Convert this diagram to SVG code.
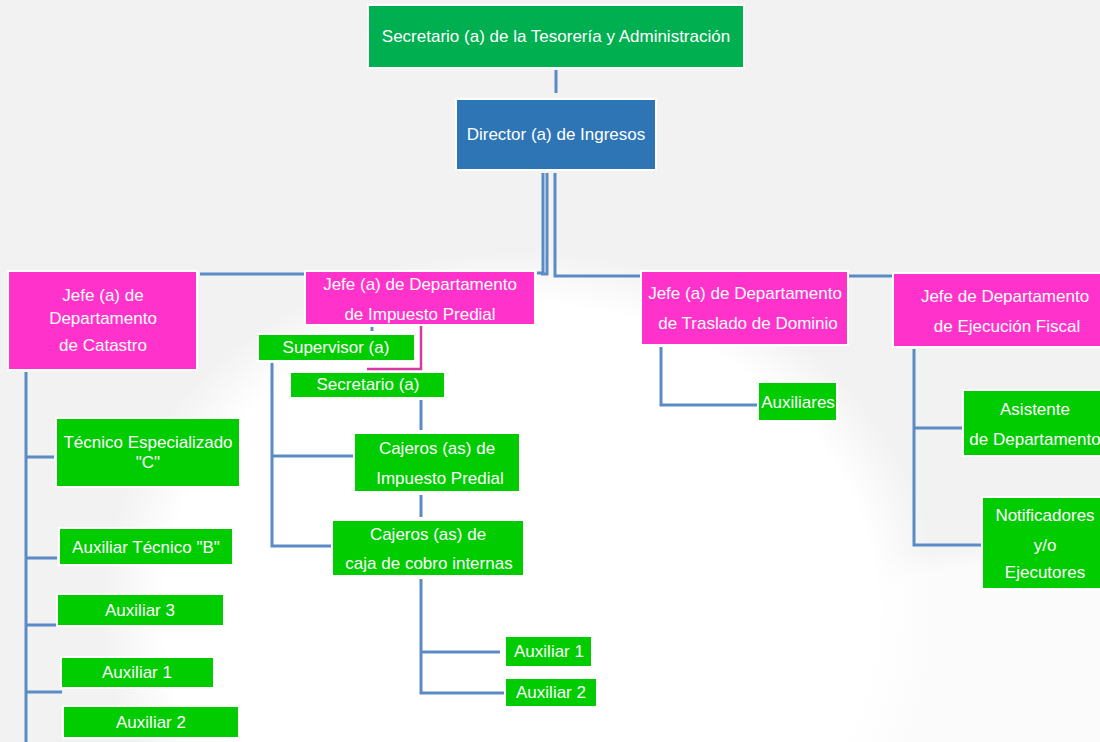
<svg xmlns="http://www.w3.org/2000/svg" width="1100" height="742" viewBox="0 0 1100 742">
<defs>
<radialGradient id="bgw" cx="0.5" cy="0.5" r="0.5">
<stop offset="0" stop-color="#ffffff"/>
<stop offset="0.85" stop-color="#ffffff"/>
<stop offset="1" stop-color="#ffffff" stop-opacity="0"/>
</radialGradient>
<style>
.t{font-family:"Liberation Sans",Arial,sans-serif;font-size:17px;fill:#ffffff;text-anchor:middle}
.g{fill:#00cc00;stroke:#ffffff;stroke-width:2}
.p{fill:#ff33cc;stroke:#ffffff;stroke-width:2}
.c{fill:none;stroke:#5b8bc5;stroke-width:3}
</style>
</defs>
<rect width="1100" height="742" fill="#f2f2f2"/>
<ellipse cx="520" cy="610" rx="420" ry="360" fill="url(#bgw)"/>
<ellipse cx="1000" cy="720" rx="260" ry="180" fill="url(#bgw)" opacity="0.7"/>

<g id="connectors">
<path class="c" d="M556 70 V93" stroke-width="2.5"/>
<path class="c" d="M543 173 V273 H537" stroke-width="2.5"/>
<path class="c" d="M547 173 V274 H541" stroke-width="2.5"/>
<path class="c" d="M555 173 V276 H641"/>
<path class="c" d="M200 274 H305" stroke-width="2.5"/>
<path class="c" d="M849 276 H893" stroke-width="2.5"/>
<path d="M421 326 V369 H367" fill="none" stroke="#d63aa0" stroke-width="2.5"/>
<path class="c" d="M372 327 V331" stroke-width="2"/>
<path class="c" d="M272 363 V546 H332"/>
<path class="c" d="M272 456 H354"/>
<path class="c" d="M421 400 V430"/>
<path class="c" d="M421 495 V517"/>
<path class="c" d="M421 579 V693 H504"/>
<path class="c" d="M421 652 H500"/>
<path class="c" d="M26 372 V742"/>
<path class="c" d="M26 457 H54"/>
<path class="c" d="M26 558 H57"/>
<path class="c" d="M26 625 H56"/>
<path class="c" d="M26 692 H62"/>
<path class="c" d="M661 347 V405 H757"/>
<path class="c" d="M914 349 V545 H981"/>
<path class="c" d="M914 428 H962"/>
</g>

<g id="secretario-tesoreria">
<rect x="368" y="5" width="376" height="63" fill="#00b050" stroke="#ffffff" stroke-width="2"/>
<text class="t" x="556" y="42">Secretario (a) de la Tesorería y Administración</text>
</g>
<g id="director-ingresos">
<rect x="456" y="99" width="200" height="71" fill="#2e75b6" stroke="#ffffff" stroke-width="2"/>
<text class="t" x="556" y="140">Director (a) de Ingresos</text>
</g>
<g id="jefe-catastro">
<rect class="p" x="8" y="271" width="189" height="99"/>
<text class="t" x="103" y="301">Jefe (a) de</text>
<text class="t" x="103" y="324">Departamento</text>
<text class="t" x="103" y="351">de Catastro</text>
</g>
<g id="jefe-predial">
<rect class="p" x="305" y="271" width="230" height="54"/>
<text class="t" x="420" y="290">Jefe (a) de Departamento</text>
<text class="t" x="420" y="320">de Impuesto Predial</text>
</g>
<g id="jefe-traslado">
<rect class="p" x="641" y="271" width="207" height="74"/>
<text class="t" x="745" y="299">Jefe (a) de Departamento</text>
<text class="t" x="748" y="329">de Traslado de Dominio</text>
</g>
<g id="jefe-ejecucion">
<rect class="p" x="893" y="273" width="210" height="74"/>
<text class="t" x="1005" y="302">Jefe de Departamento</text>
<text class="t" x="1007" y="332">de Ejecución Fiscal</text>
</g>
<g id="supervisor">
<rect class="g" x="258" y="334" width="157" height="27"/>
<text class="t" x="336" y="353">Supervisor (a)</text>
</g>
<g id="secretario-a">
<rect class="g" x="290" y="372" width="155" height="26"/>
<text class="t" x="368" y="390">Secretario (a)</text>
</g>
<g id="cajeros-predial">
<rect class="g" x="354" y="433" width="166" height="59"/>
<text class="t" x="437" y="454">Cajeros (as) de</text>
<text class="t" x="440" y="484">Impuesto Predial</text>
</g>
<g id="cajeros-caja">
<rect class="g" x="332" y="520" width="192" height="56"/>
<text class="t" x="428" y="540">Cajeros (as) de</text>
<text class="t" x="429" y="569">caja de cobro internas</text>
</g>
<g id="auxiliar-1-caja">
<rect class="g" x="505" y="636" width="87" height="31"/>
<text class="t" x="549" y="657">Auxiliar 1</text>
</g>
<g id="auxiliar-2-caja">
<rect class="g" x="505" y="678" width="92" height="29"/>
<text class="t" x="551" y="698">Auxiliar 2</text>
</g>
<g id="tecnico-c">
<rect class="g" x="56" y="418" width="184" height="69"/>
<text class="t" x="148" y="448">Técnico Especializado</text>
<text class="t" x="148" y="468">"C"</text>
</g>
<g id="auxiliar-tecnico-b">
<rect class="g" x="59" y="528" width="174" height="37"/>
<text class="t" x="146" y="553">Auxiliar Técnico "B"</text>
</g>
<g id="auxiliar-3">
<rect class="g" x="57" y="594" width="167" height="32"/>
<text class="t" x="140" y="616">Auxiliar 3</text>
</g>
<g id="auxiliar-1">
<rect class="g" x="61" y="657" width="153" height="31"/>
<text class="t" x="137" y="678">Auxiliar 1</text>
</g>
<g id="auxiliar-2">
<rect class="g" x="63" y="706" width="176" height="32"/>
<text class="t" x="151" y="728">Auxiliar 2</text>
</g>
<g id="auxiliares">
<rect class="g" x="758" y="382" width="79" height="39"/>
<text class="t" x="798" y="408">Auxiliares</text>
</g>
<g id="asistente">
<rect class="g" x="963" y="390" width="140" height="66"/>
<text class="t" x="1035" y="415">Asistente</text>
<text class="t" x="1035" y="445">de Departamento</text>
</g>
<g id="notificadores">
<rect class="g" x="982" y="497" width="121" height="92"/>
<text class="t" x="1045" y="521">Notificadores</text>
<text class="t" x="1045" y="551">y/o</text>
<text class="t" x="1045" y="578">Ejecutores</text>
</g>
</svg>
